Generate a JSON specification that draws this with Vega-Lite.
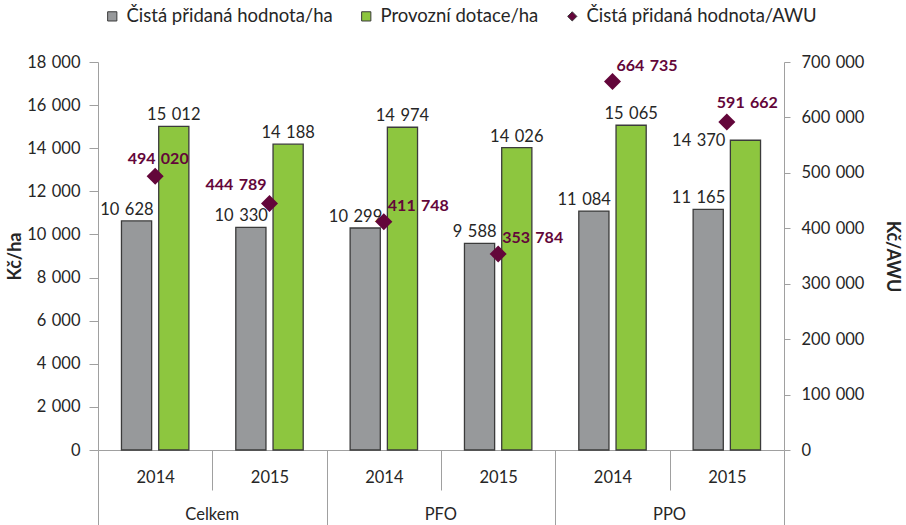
{
  "$schema": "https://vega.github.io/schema/vega-lite/v6.json",
  "width": 686,
  "height": 388,
  "autosize": {"type": "none"},
  "padding": {"left": 98, "top": 62, "right": 122, "bottom": 75},
  "config": {
    "view": {"stroke": null},
    "font": "Lato",
    "locale": {"number": {"decimal": ",", "thousands": "\u2004", "grouping": [3], "currency": ["", ""]}},
    "axis": {"labelColor": "#262626", "titleColor": "#262626", "tickColor": "#a0a0a0", "domainColor": "#a0a0a0", "grid": false, "labelFontSize": 16.5, "labelFont": "Lato", "titleFont": "Lato"}
  },
  "datasets": {
    "bars": [
      {"cat": "Celkem|2014", "series": "Čistá přidaná hodnota/ha", "value": 10628},
      {"cat": "Celkem|2014", "series": "Provozní dotace/ha", "value": 15012},
      {"cat": "Celkem|2015", "series": "Čistá přidaná hodnota/ha", "value": 10330},
      {"cat": "Celkem|2015", "series": "Provozní dotace/ha", "value": 14188},
      {"cat": "PFO|2014", "series": "Čistá přidaná hodnota/ha", "value": 10299},
      {"cat": "PFO|2014", "series": "Provozní dotace/ha", "value": 14974},
      {"cat": "PFO|2015", "series": "Čistá přidaná hodnota/ha", "value": 9588},
      {"cat": "PFO|2015", "series": "Provozní dotace/ha", "value": 14026},
      {"cat": "PPO|2014", "series": "Čistá přidaná hodnota/ha", "value": 11084},
      {"cat": "PPO|2014", "series": "Provozní dotace/ha", "value": 15065},
      {"cat": "PPO|2015", "series": "Čistá přidaná hodnota/ha", "value": 11165},
      {"cat": "PPO|2015", "series": "Provozní dotace/ha", "value": 14370}
    ],
    "awu": [
      {"cat": "Celkem|2014", "group": "Celkem", "series": "Čistá přidaná hodnota/AWU", "value": 494020},
      {"cat": "Celkem|2015", "group": "Celkem", "series": "Čistá přidaná hodnota/AWU", "value": 444789},
      {"cat": "PFO|2014", "group": "PFO", "series": "Čistá přidaná hodnota/AWU", "value": 411748},
      {"cat": "PFO|2015", "group": "PFO", "series": "Čistá přidaná hodnota/AWU", "value": 353784},
      {"cat": "PPO|2014", "group": "PPO", "series": "Čistá přidaná hodnota/AWU", "value": 664735},
      {"cat": "PPO|2015", "group": "PPO", "series": "Čistá přidaná hodnota/AWU", "value": 591662}
    ]
  },
  "layer": [
    {
      "data": {"name": "bars"},
      "encoding": {
        "x": {
          "field": "cat", "type": "nominal", "sort": null,
          "scale": {"domain": ["Celkem|2014", "Celkem|2015", "PFO|2014", "PFO|2015", "PPO|2014", "PPO|2015"], "paddingInner": 0, "paddingOuter": 0},
          "axis": {
            "orient": "bottom", "title": null, "labelExpr": "isString(datum.value) ? split(datum.value, '|')[1] : ''", "tickBand": "extent",
            "tickSize": {"condition": {"test": "!isString(datum.value) || indexof(datum.value, '2015') >= 0", "value": 75}, "value": 40},
            "labelPadding": {"condition": {"test": "isString(datum.value) && indexof(datum.value, '2015') >= 0", "value": -48}, "value": -13},
            "labelBaseline": "middle", "labelAngle": 0
          }
        },
        "xOffset": {"field": "series", "type": "nominal", "sort": ["Čistá přidaná hodnota/ha", "Provozní dotace/ha"], "scale": {"paddingInner": 0.19, "paddingOuter": 0.63}},
        "y": {
          "field": "value", "type": "quantitative",
          "scale": {"domain": [0, 18000], "nice": false},
          "axis": {"orient": "left", "title": "Kč/ha", "format": ",d", "values": [0, 2000, 4000, 6000, 8000, 10000, 12000, 14000, 16000, 18000], "tickSize": 9, "labelPadding": 9, "titleFontSize": 18, "titleFontWeight": "bold", "titlePadding": 2}
        }
      },
      "layer": [
        {
          "mark": {"type": "bar", "stroke": "#3b3b3b", "strokeWidth": 1.3},
          "encoding": {
            "color": {
              "field": "series", "type": "nominal",
              "scale": {"domain": ["Čistá přidaná hodnota/ha", "Provozní dotace/ha", "Čistá přidaná hodnota/AWU"], "range": ["#97999b", "#8dc63f", "#63063a"]},
              "legend": {
                "title": null, "orient": "none", "legendX": 5, "legendY": -55, "direction": "horizontal",
                "labelFontSize": 18.5, "labelColor": "#262626", "labelLimit": 400, "symbolSize": 85, "columnPadding": 24, "labelOffset": 5,
                "symbolStrokeColor": "#3b3b3b", "symbolStrokeWidth": 1
              }
            }
          }
        },
        {
          "transform": [{"filter": "datum.series === 'Provozní dotace/ha' && datum.cat !== 'PPO|2015'"}],
          "mark": {"type": "text", "baseline": "alphabetic", "dy": -6, "fontSize": 16.5, "color": "#262626"},
          "encoding": {"text": {"field": "value", "type": "quantitative", "format": ",d"}}
        },
        {
          "transform": [{"filter": "datum.series === 'Provozní dotace/ha' && datum.cat === 'PPO|2015'"}],
          "mark": {"type": "text", "baseline": "middle", "align": "right", "dx": -20, "dy": 1, "fontSize": 16.5, "color": "#262626"},
          "encoding": {"text": {"field": "value", "type": "quantitative", "format": ",d"}}
        },
        {
          "transform": [{"filter": "datum.series === 'Čistá přidaná hodnota/ha'"}],
          "mark": {"type": "text", "baseline": "alphabetic", "align": "right", "dx": 17, "dy": -6, "fontSize": 16.5, "color": "#262626"},
          "encoding": {"text": {"field": "value", "type": "quantitative", "format": ",d"}}
        }
      ]
    },
    {
      "data": {"name": "awu"},
      "encoding": {
        "x": {"field": "cat", "type": "nominal", "sort": null},
        "y": {
          "field": "value", "type": "quantitative",
          "scale": {"domain": [0, 700000], "nice": false},
          "axis": {"orient": "right", "title": "Kč/AWU", "format": ",d", "values": [0, 100000, 200000, 300000, 400000, 500000, 600000, 700000], "tickSize": 6, "labelPadding": 11, "titleFontSize": 18, "titleFontWeight": "bold", "titlePadding": 19}
        }
      },
      "layer": [
        {
          "mark": {"type": "point", "filled": true, "opacity": 1, "size": 290},
          "encoding": {
            "color": {"field": "series", "type": "nominal"},
            "shape": {"field": "series", "type": "nominal", "scale": {"domain": ["Čistá přidaná hodnota/ha", "Provozní dotace/ha", "Čistá přidaná hodnota/AWU"], "range": ["square", "square", "diamond"]}}
          }
        },
        {
          "transform": [{"filter": "datum.cat === 'Celkem|2014'"}],
          "mark": {"type": "text", "align": "center", "baseline": "middle", "dx": 3, "dy": -17, "fontSize": 16, "fontWeight": "bold", "color": "#63063a"},
          "encoding": {"text": {"field": "value", "type": "quantitative", "format": ",d"}}
        },
        {
          "transform": [{"filter": "datum.cat === 'Celkem|2015'"}],
          "mark": {"type": "text", "align": "right", "baseline": "middle", "dx": -3, "dy": -18, "fontSize": 16, "fontWeight": "bold", "color": "#63063a"},
          "encoding": {"text": {"field": "value", "type": "quantitative", "format": ",d"}}
        },
        {
          "transform": [{"filter": "datum.cat === 'PFO|2014' || datum.cat === 'PFO|2015' || datum.cat === 'PPO|2014'"}],
          "mark": {"type": "text", "align": "left", "baseline": "middle", "dx": 4, "dy": -16, "fontSize": 16, "fontWeight": "bold", "color": "#63063a"},
          "encoding": {"text": {"field": "value", "type": "quantitative", "format": ",d"}}
        },
        {
          "transform": [{"filter": "datum.cat === 'PPO|2015'"}],
          "mark": {"type": "text", "align": "left", "baseline": "middle", "dx": -10, "dy": -19, "fontSize": 16, "fontWeight": "bold", "color": "#63063a"},
          "encoding": {"text": {"field": "value", "type": "quantitative", "format": ",d"}}
        },
        {
          "transform": [{"filter": "indexof(datum.cat, '2014') >= 0"}],
          "mark": {"type": "text", "align": "center", "baseline": "middle", "dx": 57, "dy": 65, "fontSize": 16.5, "color": "#262626"},
          "encoding": {"y": {"datum": 0}, "text": {"field": "group", "type": "nominal"}}
        }
      ]
    }
  ],
  "resolve": {"scale": {"y": "independent"}}
}
